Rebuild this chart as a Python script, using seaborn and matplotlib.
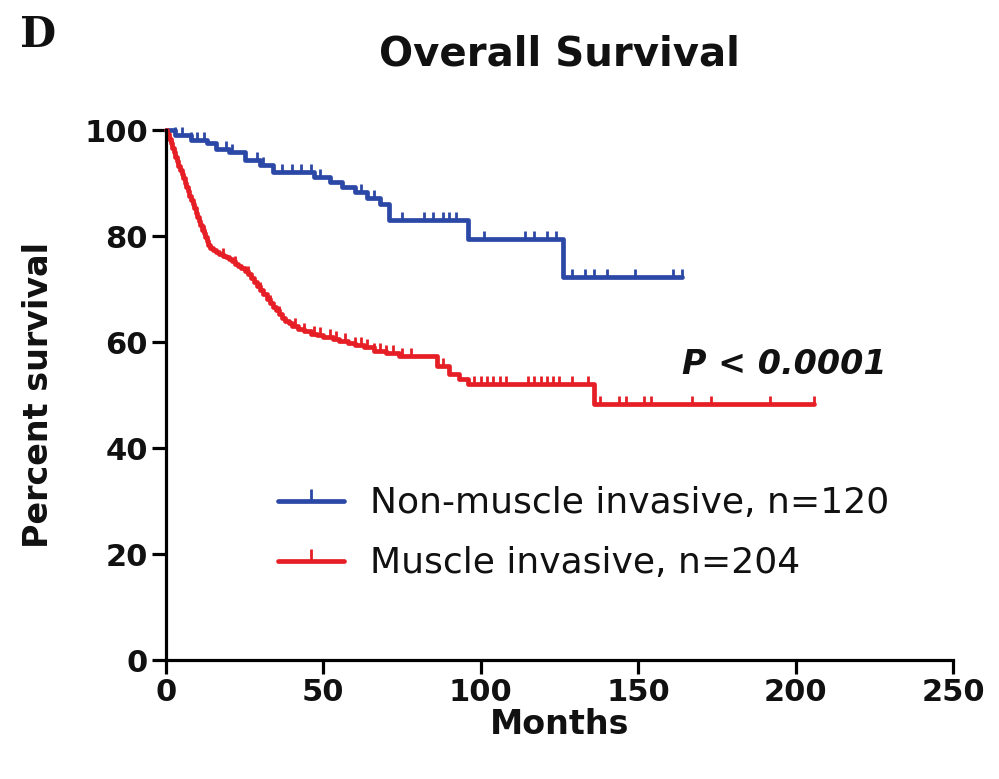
import numpy as np
import pandas as pd
import matplotlib
matplotlib.use("Agg")
import matplotlib.pyplot as plt
from matplotlib.lines import Line2D
import seaborn as sns

# ---------------- data ----------------
nmi_label = "Non-muscle invasive, n=120"
mi_label = "Muscle invasive, n=204"

nmi_times = [0, 3, 8, 13, 16, 20, 25, 30, 34, 47, 52, 56, 60, 64, 68, 71, 96, 126, 164]
nmi_surv = [100, 99, 98.2, 97.5, 96.5, 95.8, 94.3, 93.4, 92, 91.2, 90.2, 89.2, 88.3,
            87.2, 86, 83, 79.4, 72.3, 72.3]
nmi_censor = [3, 5, 8, 10, 12, 19, 21, 29, 31, 34, 37, 40, 43, 46, 49, 62, 66, 75, 82,
              85, 88, 90, 92, 101, 114, 117, 121, 124, 129, 133, 136, 140, 149, 161, 164]

mi_times = [0, 0.5, 1, 1.5, 2, 2.5, 3, 3.5, 4, 4.5, 5, 5.5, 6, 6.5, 7, 7.5, 8, 8.5, 9,
            9.5, 10, 10.5, 11, 11.5, 12, 12.5, 13, 13.5, 14, 15, 16, 17, 18, 19, 20, 21,
            22, 23, 24, 25, 26, 27, 28, 29, 30, 31, 32, 33, 34, 35, 36, 37, 38, 39, 40,
            42, 44, 46, 48, 50, 53, 55, 58, 60, 63, 66, 70, 74, 86, 90, 93, 96, 136, 206]
mi_surv = [100, 99.2, 98.3, 97.5, 96.6, 95.8, 95, 94.2, 93.3, 92.5, 91.7, 90.9, 90, 89.2,
           88.4, 87.6, 86.8, 86, 85.2, 84.4, 83.6, 82.8, 82, 81.2, 80.5, 79.8, 79, 78.4,
           77.8, 77.4, 77, 76.6, 76.3, 76, 75.6, 75.2, 74.8, 74.4, 74, 73.4, 72.8, 72,
           71.3, 70.5, 69.8, 69, 68.2, 67.4, 66.7, 66, 65.3, 64.6, 64, 63.5, 63, 62.5,
           62, 61.6, 61.3, 60.9, 60.6, 60.2, 59.8, 59.4, 59, 58.4, 58, 57.3, 55.5, 54, 53,
           52, 48.3, 48.3]
mi_censor = [12, 18, 22, 26, 30, 33, 36, 41, 44, 47, 49, 52, 54, 57, 60, 62, 64, 66, 68,
             70, 72, 75, 78, 86, 88, 98, 100, 102, 104, 106, 108, 115, 117, 119, 121, 123,
             125, 129, 134, 138, 144, 146, 152, 154, 167, 173, 192, 206]

x_ticks = [0, 50, 100, 150, 200, 250]
y_ticks = [0, 20, 40, 60, 80, 100]

BLUE = "#2B48A6"
RED = "#E61E26"

# ---------------- style ----------------
sns.set_theme(style="ticks")
plt.rcParams["font.family"] = ["DejaVu Sans"]

fig = plt.figure(figsize=(9.99, 7.79), dpi=100)
ax = fig.add_axes([0.166, 0.1527, 0.788, 0.6804])

df = pd.concat([
    pd.DataFrame({"Months": nmi_times, "Percent survival": nmi_surv, "group": nmi_label}),
    pd.DataFrame({"Months": mi_times, "Percent survival": mi_surv, "group": mi_label}),
], ignore_index=True)

sns.lineplot(data=df, x="Months", y="Percent survival", hue="group",
             palette={nmi_label: BLUE, mi_label: RED}, drawstyle="steps-post",
             estimator=None, sort=False, linewidth=3.4, legend=False, ax=ax)
for ln in ax.lines:
    ln.set_clip_on(False)


def censor_y(times, surv, cens):
    t = np.asarray(times)
    s = np.asarray(surv)
    idx = np.searchsorted(t, np.asarray(cens), side="right") - 1
    return s[idx]


ax.plot(nmi_censor, censor_y(nmi_times, nmi_surv, nmi_censor), linestyle="none",
        marker=2, markersize=6, markeredgewidth=2, color=BLUE, clip_on=False)
ax.plot(mi_censor, censor_y(mi_times, mi_surv, mi_censor), linestyle="none",
        marker=2, markersize=6, markeredgewidth=2, color=RED, clip_on=False)

ax.set_xlim(0, 250)
ax.set_ylim(0, 100)
ax.set_xticks(x_ticks)
ax.set_yticks(y_ticks)
sns.despine(ax=ax)
for sp in ["left", "bottom"]:
    ax.spines[sp].set_linewidth(2.3)
    ax.spines[sp].set_color("black")
ax.tick_params(axis="both", width=2.3, length=10, color="black", labelsize=22,
               labelcolor="#111111", pad=3)
for lab in ax.get_xticklabels() + ax.get_yticklabels():
    lab.set_fontweight("bold")

ax.set_xlabel("Months", fontsize=24, fontweight="bold", color="#111111")
ax.set_ylabel("Percent survival", fontsize=24, fontweight="bold", color="#111111")
ax.xaxis.set_label_coords(0.5, -0.09)
ax.yaxis.set_label_coords(-0.141, 0.5)

ax.text(0.5, 1.1226, "Overall Survival", transform=ax.transAxes, ha="center",
        va="baseline", fontsize=29, fontweight="bold", color="#111111")
fig.text(0.02, 0.94, "D", fontsize=30, fontweight="bold", family="DejaVu Serif",
         color="#111111", ha="left", va="baseline")

ax.text(164, 54, "P < 0.0001", fontsize=24, fontweight="bold", fontstyle="italic",
        color="#111111", ha="left", va="baseline")

handles = [
    Line2D([], [], color=BLUE, lw=3.4, marker=2, markersize=9, markeredgewidth=2),
    Line2D([], [], color=RED, lw=3.4, marker=2, markersize=9, markeredgewidth=2),
]
leg = ax.legend(handles, [nmi_label, mi_label], loc="center left",
                bbox_to_anchor=(0.142, 0.239), frameon=False, numpoints=1,
                handlelength=1.85, handletextpad=0.7, labelspacing=0.72,
                borderpad=0, borderaxespad=0,
                prop={"size": 26, "weight": "normal"})
for t in leg.get_texts():
    t.set_color("#111111")

fig.savefig("out.png", dpi=100, facecolor="white")
